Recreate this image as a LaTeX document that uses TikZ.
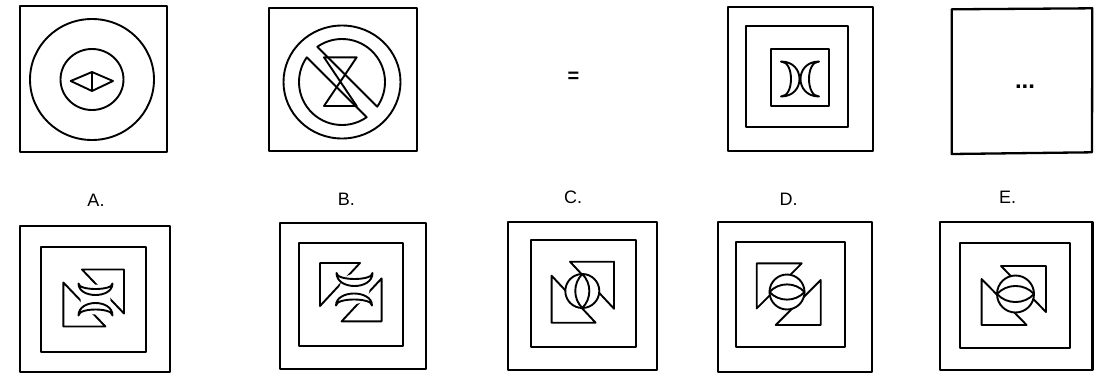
\documentclass[tikz,border=0pt]{standalone}
\usepackage{fontspec}
\setmainfont{Liberation Sans}
\usetikzlibrary{calc}
\newcommand\crescent[6]{% x, y, rotation, half tip distance, outer depth, inner depth
  \begin{scope}[shift={(#1,#2)},rotate=#3]
    \draw[fig,fill=white] (0,-#4) .. controls ({4/3*#5},-#4) and ({4/3*#5},#4) .. (0,#4)
      .. controls ({4/3*#6},#4) and ({4/3*#6},-#4) .. (0,-#4) -- cycle;
  \end{scope}}
\newcommand\pinw[7]{% cx, cy, xscale, half width, half height, horizontal leg, vertical leg
  \begin{scope}[shift={(#1,#2)},xscale=#3]
    \draw[fig] ({#4-#6},-#5) -- (#4,-#5) -- (#4,{-#5+#7}) -- cycle;
    \draw[fig] (-#4,{#5-#7}) -- (-#4,#5) -- ({-#4+#6},#5) -- cycle;
  \end{scope}}
\newcommand\lensc[5]{% cx, cy, radius, rotation, bend
  \begin{scope}[shift={(#1,#2)},rotate=#4]
    \draw[fig,fill=white] (0,0) circle[radius=#3];
    \draw[fig] (0,-#3) to[bend left=#5] (0,#3) to[bend left=#5] (0,-#3);
  \end{scope}}
\begin{document}
\begin{tikzpicture}[x=1pt,y=-1pt,line join=round,
  box/.style={line width=2.3pt},
  fig/.style={line width=1.9pt},
  lbl/.style={font=\fontsize{18}{20}\selectfont,inner sep=0pt}]
\useasboundingbox[fill=white] (0,0) rectangle (1094,375);

% ---------- top row ----------
% figure 1
\draw[box] (20,6) rectangle (167,152);
\draw[fig] (92,79.5) circle[x radius=62,y radius=60.5];
\draw[fig] (92,79.5) circle[x radius=31.5,y radius=30.5];
\draw[fig] (70.7,81) -- (92,72) -- (113,81) -- (92,91) -- cycle;
\draw[fig] (92,72) -- (92,91);

% figure 2
\draw[box] (269,8) rectangle (417,151);
\draw[fig] (342,82) circle[x radius=58.5,y radius=56.5];
\draw[fig] (342,82) ++(235:43) arc[start angle=235,end angle=395,radius=43] -- cycle;
\draw[fig] (342,82) ++(55:43) arc[start angle=55,end angle=215,radius=43] -- cycle;
\draw[fig] (324,57.3) -- (356.7,57.3) -- (324,106) -- (356.7,106) -- cycle;

% equals sign
\node[lbl,font=\fontsize{20}{22}\selectfont\bfseries] (eq) at (573.5,77.5) {=};

% figure 3
\draw[box] (727.7,7.3) rectangle (873.3,150.7);
\draw[box] (746,26) rectangle (848.3,126.7);
\draw[box] (770.7,49.3) rectangle (829.3,106);
\crescent{781}{79}{0}{17.5}{18.5}{10}
\crescent{819}{79}{180}{17.5}{18.5}{10}

% figure 4
\draw[box] (951.7,9.3) -- (1092.3,8.3) -- (1092,152.3) -- (951.7,154) -- cycle;
\node[lbl,font=\fontsize{24}{26}\selectfont\bfseries] (dots) at (1025,86.7) {...};

% ---------- labels ----------
\node[lbl] (la) at (96,200.8) {A.};
\node[lbl] (lb) at (346.3,199.7) {B.};
\node[lbl] (lc) at (573,197) {C.};
\node[lbl] (ld) at (788.5,199) {D.};
\node[lbl] (le) at (1007.5,197.5) {E.};

% ---------- option A ----------
\draw[box] (20,226) rectangle (170,371.7);
\draw[box] (40.7,247.3) rectangle (145.7,351.7);
\pinw{93.7}{298}{1}{30.3}{28.5}{42}{44}
\fill[white] (95.5,299.5) circle[radius=15];
\crescent{95.5}{283.5}{-90}{17}{11.5}{5.5}
\crescent{95.5}{315.5}{90}{17}{12.5}{6}

% ---------- option B ----------
\draw[box] (280,222.7) rectangle (426,369.3);
\draw[box] (299.3,242.7) rectangle (403.3,346);
\pinw{350.8}{292.2}{-1}{30.8}{29.2}{40}{43}
\fill[white] (354.5,289) circle[radius=15];
\crescent{354.5}{273}{-90}{18}{13}{6}
\crescent{354}{305.5}{90}{18}{12}{6}

% ---------- option C ----------
\draw[box] (508.3,221.7) rectangle (657.3,370);
\draw[box] (530.7,240) rectangle (636,346.7);
\pinw{582.8}{292.2}{1}{31.2}{30.5}{44}{47}
\lensc{582.3}{291}{17}{0}{45}

% ---------- option D ----------
\draw[box] (718.3,221.7) rectangle (871.7,371.7);
\draw[box] (736,241.7) rectangle (845,346.7);
\pinw{788.7}{294.2}{-1}{32}{30.8}{45}{45}
\lensc{787}{292}{17.5}{90}{48}

% ---------- option E ----------
\draw[box] (940,221.7) rectangle (1092.5,370);
\draw[box] (960,242.7) rectangle (1070,348.3);
\pinw{1013.8}{295.5}{1}{32.2}{29.5}{45}{46}
\lensc{1015.5}{294}{18.5}{90}{48}
\end{tikzpicture}
\end{document}
